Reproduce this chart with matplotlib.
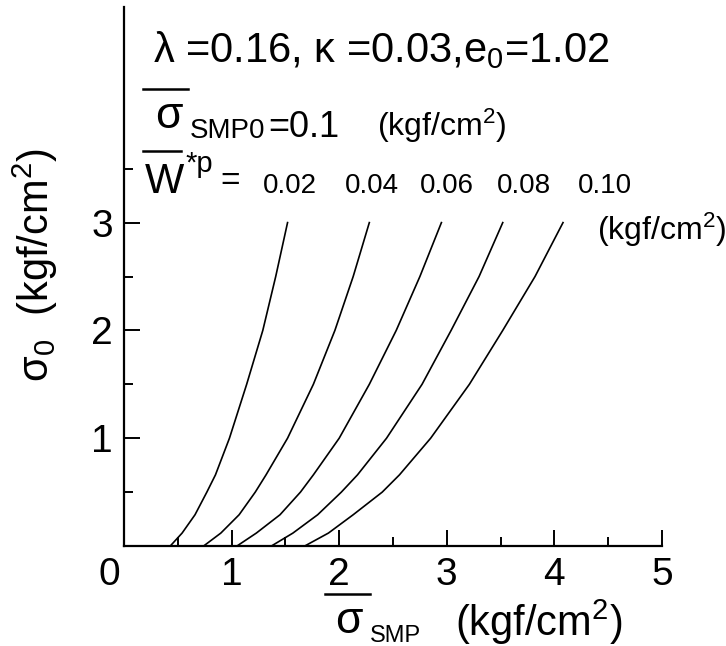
import matplotlib
matplotlib.use('Agg')
import matplotlib.pyplot as plt
from matplotlib.lines import Line2D
from matplotlib.ticker import MultipleLocator

plt.rcParams['font.family'] = ['Liberation Sans', 'DejaVu Sans']
plt.rcParams['mathtext.fontset'] = 'custom'
plt.rcParams['mathtext.rm'] = 'Liberation Sans'
plt.rcParams['mathtext.it'] = 'Liberation Sans'
plt.rcParams['mathtext.default'] = 'regular'

# sigma_0 levels (kgf/cm2) at which each curve was read
sigma0 = [0, 0.12, 0.29, 0.5, 0.66, 1.0, 1.5, 2.0, 2.5, 3.0]

# sigma_SMP, W*p = 0.02 ... 0.10
smp_002 = [0.43, 0.54, 0.66, 0.77, 0.85, 0.98, 1.14, 1.29, 1.41, 1.52]
smp_004 = [0.74, 0.90, 1.07, 1.22, 1.32, 1.52, 1.76, 1.96, 2.13, 2.28]
smp_006 = [1.05, 1.23, 1.45, 1.64, 1.76, 2.00, 2.28, 2.53, 2.75, 2.95]
smp_008 = [1.37, 1.57, 1.80, 2.02, 2.17, 2.44, 2.77, 3.04, 3.30, 3.52]
smp_010 = [1.68, 1.90, 2.13, 2.40, 2.56, 2.85, 3.21, 3.52, 3.82, 4.08]

wp_labels = ['0.02', '0.04', '0.06', '0.08', '0.10']
wp_label_x = [263, 345, 420, 497, 578]   # pixel positions of the labels

W, H = 726, 646
fig = plt.figure(figsize=(W / 100, H / 100), dpi=100)
ax = fig.add_axes([124 / W, 100 / H, 538 / W, 539 / H])

for xs in [smp_002, smp_004, smp_006, smp_008, smp_010]:
    ax.plot(xs, sigma0, color='black', lw=1.2, solid_joinstyle='round')

ax.set_xlim(0, 5)
ax.set_ylim(0, 5)
ax.spines['top'].set_visible(False)
ax.spines['right'].set_visible(False)
ax.spines['left'].set_linewidth(1.6)
ax.spines['bottom'].set_linewidth(1.6)

ax.set_xticks([1, 2, 3, 4, 5])
ax.xaxis.set_minor_locator(MultipleLocator(0.5))
ax.set_yticks([1, 2, 3])
ax.set_yticks([0.5, 1.5, 2.5, 3.5], minor=True)
ax.tick_params(which='major', direction='in', length=11.5, width=1.4,
               labelsize=28, pad=8)
ax.tick_params(which='minor', direction='in', length=6.5, width=1.4)
# origin label sits a bit left of the corner
ax.text(-0.14, -11 / 539, '0', transform=ax.get_xaxis_transform(),
        fontsize=28, ha='center', va='top')


def put(x, y, s, size, **kw):
    fig.text(x / W, 1 - y / H, s, fontsize=size, ha='left', va='baseline', **kw)


def bar(x1, x2, y):
    fig.add_artist(Line2D([x1 / W, x2 / W], [1 - y / H] * 2,
                          color='black', lw=1.8, transform=fig.transFigure))


# parameter block
put(153, 62, r'λ =0.16, κ =0.03,e$_0$=1.02', 30)

bar(143, 188, 89)
put(155, 128, 'σ', 32)
put(190, 138, 'SMP0', 20)
put(268, 137, '=0.1', 26)
put(377, 136, '(kgf/cm$^2$)', 23)

bar(143, 181, 151)
put(145, 193, 'W', 30)
put(185, 172, '*p', 21)
put(220, 190, '=', 24)
for lab, xp in zip(wp_labels, wp_label_x):
    put(xp, 193, lab, 20)
put(597, 240, '(kgf/cm$^2$)', 23)

# axis labels
bar(325, 370, 594)
put(335, 633, 'σ', 32)
put(370, 642, 'SMP', 17)
put(455, 636, '(kgf/cm$^2$)', 30)

fig.text(35 / W, 1 - 265 / H, r'σ$_0$  (kgf/cm$^2$)', rotation=90,
         ha='center', va='center', fontsize=30)

fig.savefig('out.png', dpi=100)
